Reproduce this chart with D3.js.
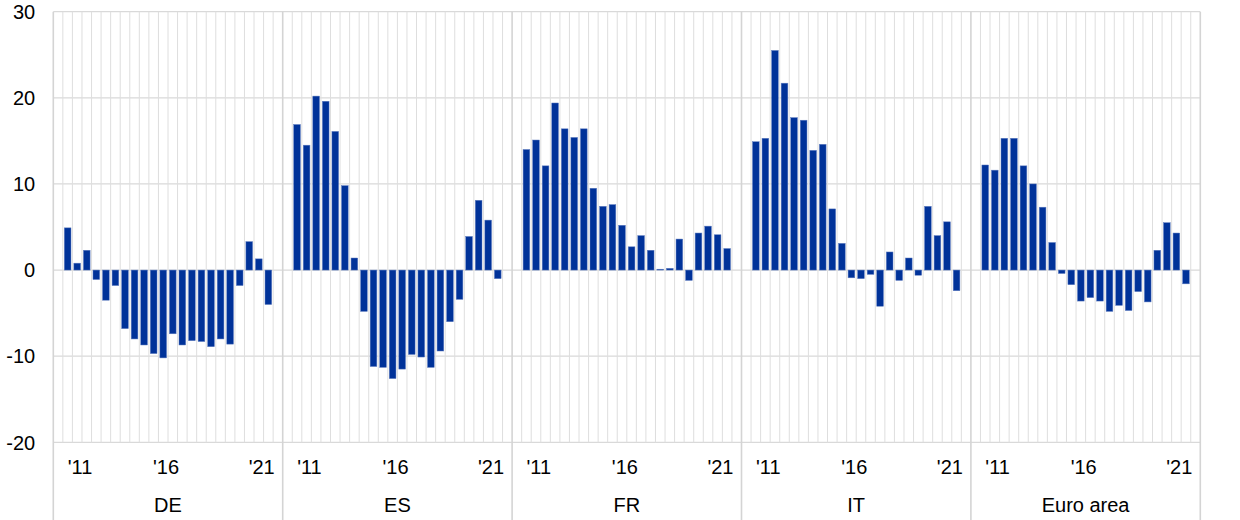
<!DOCTYPE html>
<html>
<head>
<meta charset="utf-8">
<script src="https://cdn.jsdelivr.net/npm/d3@7"></script>
<style>
  html, body { margin: 0; padding: 0; background: #fff; }
  svg { display: block; }
  text { font-family: "Liberation Sans", Arial, sans-serif; fill: #000; }
</style>
</head>
<body>
<svg id="chart" width="1240" height="520"></svg>
<script>
// ---- data ----
const countries = ["DE", "ES", "FR", "IT", "Euro area"];
const periods = d3.range(22); // half-year observations 2011-2021
const valuesDE = [4.9, 0.8, 2.3, -1.1, -3.5, -1.8, -6.8, -8.0, -8.7, -9.7, -10.2, -7.4, -8.7, -8.2, -8.3, -8.9, -8.0, -8.6, -1.8, 3.3, 1.3, -4.0];
const valuesES = [16.9, 14.5, 20.2, 19.6, 16.1, 9.8, 1.4, -4.8, -11.2, -11.3, -12.6, -11.5, -9.8, -10.1, -11.3, -9.4, -6.0, -3.4, 3.9, 8.1, 5.8, -1.0];
const valuesFR = [14.0, 15.1, 12.1, 19.4, 16.4, 15.4, 16.4, 9.5, 7.4, 7.6, 5.2, 2.7, 4.0, 2.3, 0.1, 0.2, 3.6, -1.2, 4.3, 5.1, 4.1, 2.5];
const valuesIT = [14.9, 15.3, 25.5, 21.7, 17.7, 17.4, 13.9, 14.6, 7.1, 3.1, -0.9, -1.0, -0.5, -4.2, 2.1, -1.2, 1.4, -0.6, 7.4, 4.0, 5.6, -2.4];
const valuesEA = [12.2, 11.6, 15.3, 15.3, 12.1, 10.0, 7.3, 3.2, -0.4, -1.7, -3.6, -3.2, -3.6, -4.8, -4.1, -4.7, -2.5, -3.7, 2.3, 5.5, 4.3, -1.6];
const seriesValues = [valuesDE, valuesES, valuesFR, valuesIT, valuesEA];
const yTicks = [-20, -10, 0, 10, 20, 30];
const yearLabels = ["'11", "'16", "'21"];
const yearLabelPeriods = [1, 10, 20];

// ---- layout ----
const svg = d3.select("#chart");
const plotLeft = 53.3, plotRight = 1200.3, plotTop = 11.7, plotBottom = 442.3;
const nSlots = 24; // 22 observations plus one empty slot each side

const y = d3.scaleLinear().domain([-20, 30]).range([plotBottom, plotTop]);
const xGroup = d3.scaleBand().domain(countries).range([plotLeft, plotRight]).padding(0);
const gw = xGroup.bandwidth();
const step = gw / nSlots;
const xInner = d3.scaleBand().domain(periods).range([0, gw])
  .paddingInner(0.3).paddingOuter(1.15);

const grid = svg.append("g");
// horizontal gridlines
grid.selectAll("line.h").data(yTicks).join("line")
  .attr("x1", plotLeft).attr("x2", plotRight)
  .attr("y1", d => y(d)).attr("y2", d => y(d))
  .attr("stroke", "#d9d9d9").attr("stroke-width", 1.2);

// vertical category lines
countries.forEach(c => {
  const g0 = xGroup(c);
  d3.range(1, nSlots).forEach(k => {
    grid.append("line")
      .attr("x1", g0 + k * step).attr("x2", g0 + k * step)
      .attr("y1", plotTop).attr("y2", plotBottom)
      .attr("stroke", "#dedede").attr("stroke-width", 1);
  });
});
// group dividers (extend through label area)
const dividers = countries.map(c => xGroup(c)).concat([plotRight]);
grid.selectAll("line.div").data(dividers).join("line")
  .attr("x1", d => d).attr("x2", d => d)
  .attr("y1", plotTop).attr("y2", 520)
  .attr("stroke", "#d4d4d4").attr("stroke-width", 1.6);

// bars
countries.forEach((c, ci) => {
  const g = svg.append("g").attr("transform", `translate(${xGroup(c)},0)`);
  g.selectAll("rect").data(seriesValues[ci]).join("rect")
    .attr("x", (d, i) => xInner(i))
    .attr("width", xInner.bandwidth())
    .attr("y", d => y(Math.max(0, d)))
    .attr("height", d => Math.abs(y(d) - y(0)))
    .attr("fill", "#003299")
    .attr("stroke", "#5f7dc0").attr("stroke-width", 0.5);

  // year labels
  g.selectAll("text.yr").data(yearLabels).join("text")
    .attr("x", (d, i) => xInner(yearLabelPeriods[i]) + xInner.bandwidth() / 2 + 0.3 * step)
    .attr("y", 474.3)
    .attr("text-anchor", "middle")
    .attr("font-size", 20)
    .text(d => d);

  g.append("text")
    .attr("x", gw / 2).attr("y", 512)
    .attr("text-anchor", "middle")
    .attr("font-size", 20)
    .text(c);
});

// y tick labels
svg.append("g").selectAll("text").data(yTicks).join("text")
  .attr("x", 35.2).attr("y", d => y(d))
  .attr("dy", "0.36em")
  .attr("text-anchor", "end")
  .attr("font-size", 20)
  .text(d => d);
</script>
</body>
</html>
